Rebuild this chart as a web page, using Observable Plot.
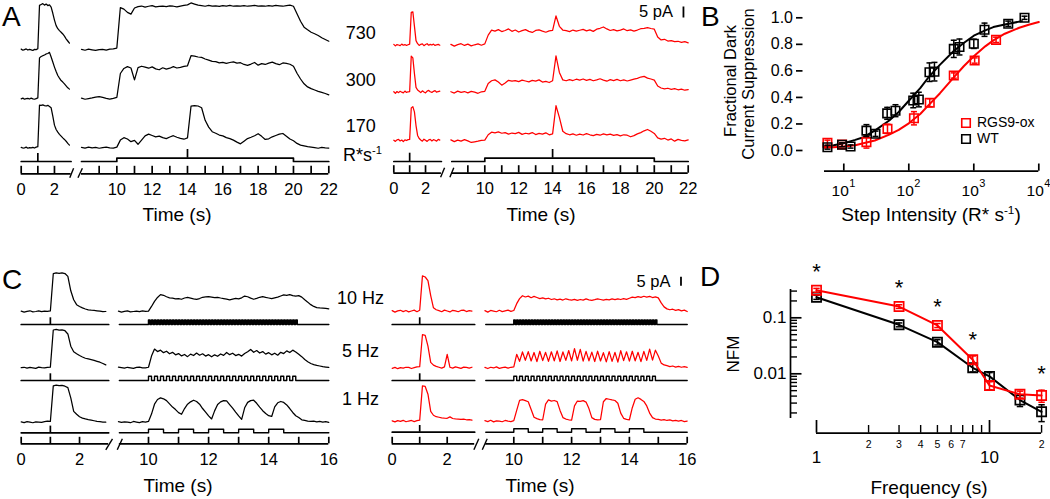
<!DOCTYPE html>
<html>
<head>
<meta charset="utf-8">
<script src="https://cdn.jsdelivr.net/npm/d3@7"></script>
<script src="https://cdn.jsdelivr.net/npm/@observablehq/plot@0.6"></script>
<style>
  html, body { margin: 0; padding: 0; background: #fff; }
  #fig { position: relative; width: 1050px; height: 499px; overflow: hidden; background: #fff;
         font-family: "Liberation Sans", Arial, Helvetica, sans-serif; color: #000; }
  #fig > svg { position: absolute; left: 0; top: 0; }
  .lbl { position: absolute; white-space: nowrap; line-height: 1; }
  .lbl sup { font-size: 0.62em; vertical-align: 0.6em; line-height: 0; }
</style>
</head>
<body>
<div id="fig"></div>
<script>
// ======================= DATA =======================
// ---- Panel A: responses (pA) to flashes and steps; rows = step intensity (R* s^-1)
const stepIntensityLabels = ["730", "300", "170"];
const lightStepA = [10, 20];        // step on / off (s)
const flashTimesA = [1, 14];        // test flash times (s)
const timeTicksA1 = [0, 1, 2];
const timeLabelsA1 = [0, 2];
const timeTicksA2 = [9, 10, 11, 12, 13, 14, 15, 16, 17, 18, 19, 20, 21, 22];
const timeLabelsA2 = [10, 12, 14, 16, 18, 20, 22];
// segment 1: t = 0 ... 2.9 s every 0.1 s
const wtA730_s1 = [0.3,-0.2,0.1,0.4,-0.1,0.2,0,-0.3,0.2,0.1, 0.5,20.2,20.6,21.0,20.3,20.8,20.1,20.4,19.4,16.6, 13.5,11.0,9.6,8.7,8.0,7.2,6.2,5.0,4.0,3.0];
const wtA300_s1 = [0,0.3,-0.2,0.1,0.2,-0.1,0.3,0,-0.2,0.1, 0.4,18.6,19.2,19.6,19.9,20.4,20.6,21.1,19.0,16.7, 14.4,12.4,10.6,9.4,8.3,7.6,6.8,5.9,5.0,4.4];
const wtA170_s1 = [0.2,-0.1,0,0.3,-0.2,0.1,0,0.2,-0.1,0.3, 0.5,19.4,19.3,19.5,19.2,19.0,19.3,18.8,18.2,14.4, 10.3,8.3,7.1,6.1,5.3,4.5,3.8,3.0,2.0,1.2];
const rgsA730_s1 = [0.3,-0.4,0.2,0,-0.3,0.4,-0.1,0.2,-0.2,0.1, 0.4,14.8,15.1,8.6,2.0,0.6,-0.2,0.3,0.5,-0.3, 0.2,0.6,-0.1,0.3,0,0.4,-0.2,0.1,0.3,-0.1];
const rgsA300_s1 = [0.2,-0.5,0.3,-0.2,0.4,0,-0.3,0.5,-0.1,0.2, 0.3,16.4,15.6,8.5,2.2,1.0,0.4,-0.2,0.6,0.1, -0.3,0.5,0.8,0.2,-0.1,0.4,0.7,0,0.3,0.5];
const rgsA170_s1 = [0.1,-0.4,0.3,0.5,-0.2,0.2,-0.5,0.3,0,0.4, 0.5,14.8,15.4,13.0,6.8,2.3,0.9,0.2,-0.3,0.6, 0.1,-0.4,0.3,0.5,-0.2,0.4,0.1,-0.3,0.5,0.2];
// segment 2: t = 8 ... 22 s every 0.2 s
const wtA730_s2 = [0.2,-0.2,0.3,0,-0.3,0.1,0.2,-0.1,0.3,0.4, 0.8, 19.2,18.5,17.0,16.2, 19.0,
  19.6,19.9,19.4,19.8,20.1,19.5,19.7,19.9,19.6,20.0,19.8,19.5,19.9,20.2, 20.4,21.3,20.8,20.3,
  20.1,19.8,20.2,19.9,20.0,19.7,20.1,19.9,20.2,19.8,20.0,19.9,20.1,19.8,20.0,20.2,19.9,20.0,19.8,20.1,19.9,20.2,20.0,19.8,20.1,20.3,
  19.8,16.4,13.0,10.3,9.1,8.0,7.3,6.5,5.5,4.7,3.9];
const wtA300_s2 = [0.3,-0.2,0.1,0.4,0.8,1.0,0.6,0.2,-0.1,0.2, 0.6,
  11.5,13.8,14.6,14.0,8.6,14.2,14.8,14.4,13.9,14.5,13.6,13.2,14.1,13.5,13.9,14.6,14.0,14.3,14.7,
  15.0,19.6,19.4,19.0,18.8,18.1,17.6,17.0,16.9,16.3, 16.6,16.1,16.5,16.8,16.2,16.4,15.6,15.2,15.8,16.5, 15.3,16.0,15.6,16.2,16.7,16.0,15.5,16.3,16.1,15.7,
  14.8,11.6,9.0,6.8,5.4,4.6,4.0,3.4,2.9,2.4,1.8];
const wtA170_s2 = [0.2,-0.1,0.3,0,0.2,-0.2,0.1,0.3,0,-0.1,
  0.3,3.5,4.6,4.0,2.8,3.4,1.6,3.5,5.4,6.2,5.6,5.0,5.3,4.6,4.2,4.9,5.5,4.8,4.3,3.9,4.5,
  18.9,19.2,19.0,18.2,12.5,9.4,7.3,6.6,5.8,5.4, 4.6,4.2,3.5,2.6,1.8,3.0,4.2,4.8,5.5,6.4, 5.2,3.8,4.1,5.0,5.6,6.2,6.5,5.3,4.0,
  3.2,2.0,1.2,0.9,0.5,0.3,0.1,-0.2,0.2,0,-0.1];
const rgsA730_s2 = [0.3,-0.5,0.2,0.6,-0.2,0.4,-0.4,0.1,0.5,-0.1,
  0.5,4.5,6.8,6.3,7.0,6.1,6.6,7.3,6.2,6.8, 5.9,6.5,7.0,6.2,5.7,6.6,6.9,6.3,5.8,6.4,
  6.6,13.2,8.5,6.8,6.5,6.1,6.8,6.3,6.7,7.1, 6.4,6.9,6.2,7.2,7.6,8.2,7.3,6.6,7.0,6.4, 6.8,7.3,6.5,6.9,6.3,6.8,7.4,7.6,7.9,7.5,
  7.2,3.6,2.3,2.6,1.8,2.0,1.5,1.7,1.2,1.5,1.0];
const rgsA300_s2 = [0.2,-0.4,0.5,-0.1,0.3,-0.3,0.4,0,-0.5,0.2,
  0.4,4.0,5.2,5.6,4.6,3.2,4.2,5.4,5.0,5.3, 4.8,5.5,5.1,4.7,5.4,5.0,5.6,4.6,4.9,4.4,
  5.2,16.5,9.0,5.6,5.2,5.7,5.3,5.9,5.5,6.0, 5.4,5.8,5.2,5.6,6.1,5.5,5.0,5.7,5.3,5.8, 5.2,5.6,5.1,5.5,5.9,6.3,6.9,7.2,6.4,6.0,
  5.5,2.8,1.9,1.5,1.8,1.3,1.6,1.1,1.4,0.9,1.2];
const rgsA170_s2 = [0.3,-0.5,0.2,-0.3,0.4,-0.2,-0.9,-0.6,-0.3,0.1,
  0.2,2.6,3.8,3.5,3.9,3.3,3.6,2.9,3.4,3.1, 3.7,2.8,3.3,3.0,3.6,2.7,3.2,2.9,3.5,2.6,
  3.0,15.8,10.5,4.2,3.1,2.6,3.0,2.4,2.9,2.5, 3.1,2.6,2.2,2.8,2.4,3.0,2.6,2.9,2.3,2.7, 2.1,2.6,2.4,1.7,2.2,3.0,3.6,4.4,5.0,4.2,
  3.2,1.2,0.6,1.0,0.2,0.7,-0.3,0.5,0.1,-0.2,0.3];

// ---- Panel C: responses (pA) to flicker; rows = flicker frequency
const flickerLabels = ["10 Hz", "5 Hz", "1 Hz"];
const pulseFreqsC = [10, 5, 1];     // Hz
const pulseTrainC = [10, 15];       // train start / end (s)
const flashTimesC = [1];
const timeTicksC1 = [0, 1, 2];
const timeLabelsC1 = [0, 2];
const timeTicksC2 = [10, 11, 12, 13, 14, 15, 16];
const timeLabelsC2 = [10, 12, 14, 16];
// segment 1: t = 0 ... 2.9 s every 0.1 s
const wtC10_s1 = [0.2,-0.3,0.1,0.4,-0.2,0,0.3,-0.1,0.2,0.1, 0.3,21.0,21.4,21.2,21.5,21.1,19.5,11.5,6.5,3.8, 2.8,2.0,1.4,0.9,0.7,0.6,0.4,0.2,-0.1,0.0];
const wtC5_s1  = [0.1,0.3,-0.2,0.2,0,-0.3,0.4,0.1,-0.1,0.2, 0.4,21.0,21.3,20.9,21.1,20.6,18.8,12.0,8.9,7.8, 6.8,6.0,5.3,4.9,4.5,4.1,3.6,3.1,2.4,1.6];
const wtC1_s1  = [0.2,-0.2,0.3,0,-0.3,0.2,0.1,-0.1,0.3,0.6, 0.4,20.2,20.6,20.3,20.5,20.0,19.2,13.5,6.0,4.4, 3.0,2.3,1.8,1.4,1.1,0.8,0.5,0.3,0.1,0];
const rgsC10_s1 = [0.3,-0.5,0.2,0.5,-0.2,0.4,-0.4,0.1,0.6,-0.3, 0.5,19.6,19.0,17.0,8.7,1.9,0.8,0.3,-0.3,0.6, 0.1,-0.4,0.5,0.2,-0.3,0.4,0.6,-0.2,0.3,0.1];
const rgsC5_s1  = [-0.3,0.2,-0.5,0.1,-0.2,0.3,0.2,-0.4,0.1,0.5, 0.6,18.4,18.0,12.0,3.0,1.5,0.8,0.3,-0.2,0.5, 7.4,0.3,-0.2,0.5,0.1,-0.3,0.4,0.2,-0.2,0.3];
const rgsC1_s1  = [0.2,-0.4,0.3,-0.1,0.5,-0.3,0.1,0.4,-0.2,0.3, 0.6,19.6,19.3,15.0,5.5,3.3,2.5,2.2,1.9,1.7, 1.6,2.4,1.5,1.3,1.2,1.0,1.1,0.8,0.9,0.6];
// segment 2: t = 9 ... 16 s every 0.1 s
const wtC10_s2 = [0.2,-0.3,0.1,0.3,-0.2,0,0.2,-0.1,0.3,0.1,
  0.2,2.8,5.6,7.8,9.4,9.0,8.2,7.6,7.4,7.0, 7.2,6.8,7.5,7.8,7.4,7.0,6.7,7.2,7.9,8.1,
  8.3,8.0,7.7,7.9,7.5,7.2,6.9,6.5,6.9,7.3, 7.0,7.6,8.6,8.2,7.4,6.8,7.3,7.9,8.3,7.8,
  7.5,7.1,7.6,8.0,8.6,9.2,9.0,9.4,8.8,8.6, 8.8,8.0,6.5,5.2,3.8,2.8,2.2,2.0,1.9,1.7, 1.5];
const wtC5_s2 = [0.4,0.1,-0.2,0.3,0,-0.3,0.2,0.4,0,-0.1,
  0.3,6.5,10.4,9.0,9.8,8.4,9.2,7.8,8.6,7.2, 7.9,6.6,7.4,6.2,7.6,6.8,8.2,7.0,7.8,6.5,
  7.3,6.1,7.2,6.4,7.7,6.9,8.5,7.3,8.1,6.8, 7.5,6.5,7.9,8.9,10.2,8.6,9.6,8.2,9.0,7.6,
  8.4,7.2,8.1,7.0,8.6,7.9,9.4,8.5,9.8,8.8, 7.5,6.2,4.6,3.4,2.4,1.8,1.3,1.0,0.6,0.4, 0.2];
const wtC1_s2 = [0.3,-0.1,0.2,0,-0.3,0.4,0.1,-0.2,0.3,0,
  0.4,4.5,10.0,12.6,13.5,13.0,12.0,10.2,8.4,7.0, 5.3,4.4,7.6,10.0,11.3,12.2,11.5,10.0,7.6,5.6,
  3.5,1.8,6.3,9.8,11.3,12.0,11.8,9.8,7.8,5.6, 3.5,1.6,8.0,11.0,12.0,12.2,10.5,8.4,6.4,4.8,
  3.6,3.2,8.5,10.8,11.5,11.0,9.6,7.6,5.4,3.6, 2.6,1.3,1.0,0.6,0.4,0.6,0.2,0.5,0,0.3, -0.1];
const rgsC10_s2 = [0.3,-0.5,0.4,0.1,-0.3,0.5,-0.2,0.2,0.6,-0.1,
  0.4,4.2,7.0,8.6,7.9,8.4,7.5,8.2,7.6,7.0, 7.4,6.8,7.2,6.5,6.9,6.3,6.7,6.2,6.9,6.4,
  6.1,6.6,6.0,6.5,6.2,6.8,6.3,6.0,6.4,6.9, 6.5,6.1,6.6,6.3,6.8,6.4,6.9,6.5,7.0,6.6,
  7.2,7.8,7.5,8.1,7.7,8.3,7.8,8.2,7.6,8.0, 7.4,4.6,2.4,1.3,0.8,1.1,0.5,0.9,0.2,0.6, -0.2];
const rgsC5_s2 = [0.2,-0.4,0.3,-0.1,0.5,-0.3,0.1,0.4,-0.2,0.3,
  0.5,7.5,3.6,8.8,4.2,9.0,3.8,8.5,3.4,9.2, 4.0,8.6,3.6,8.9,3.9,9.4,3.5,8.8,4.1,9.6,
  3.8,10.6,4.2,10.2,3.7,9.1,3.9,8.7,3.5,9.3, 3.8,8.4,3.3,9.0,3.6,8.6,3.2,9.5,4.0,8.9,
  3.7,9.2,3.9,8.6,3.4,9.1,4.1,10.4,4.3,9.8, 6.5,2.6,1.6,1.2,0.7,1.0,0.4,0.8,0.3,0.6, 0.2];
const rgsC1_s2 = [0.3,-0.2,0.5,-0.4,0.2,0.1,-0.3,0.4,0,-0.2,
  0.3,6.0,11.6,12.0,11.4,10.8,6.5,2.2,1.4,0.9, 0.8,9.5,11.8,11.2,11.5,10.9,6.0,2.0,1.2,0.8,
  0.6,8.5,11.2,11.0,11.4,10.6,7.0,2.0,1.0,0.7, 0.9,10.8,12.6,12.2,11.8,11.5,10.0,4.5,1.6,1.0,
  0.8,7.5,12.2,13.0,12.1,11.0,8.5,4.5,2.0,1.2, 1.0,0.6,0.9,0.4,0.7,0.2,0.5,0.1,0.4,-0.2, 0.1];
const scaleBarPA = 5;

// ---- Panel B: fractional dark current suppression vs step intensity
const wtStepI    = [5.6, 9.4, 12.7, 22.3, 30.7, 46.5, 62.4, 117, 142.6, 208, 248, 492, 602, 1000, 1462, 3388, 6030];
const wtFrac     = [0.025, 0.043, 0.03, 0.15, 0.126, 0.28, 0.30, 0.377, 0.384, 0.59, 0.594, 0.766, 0.78, 0.804, 0.91, 0.955, 1.0];
const wtFracErr  = [0.015, 0.015, 0.012, 0.045, 0.02, 0.045, 0.045, 0.055, 0.055, 0.07, 0.07, 0.065, 0.06, 0.035, 0.05, 0.02, 0.012];
const rgsStepI   = [5.6, 9.4, 22.3, 47, 120, 210, 492, 1030, 2200];
const rgsFrac    = [0.058, 0.045, 0.063, 0.163, 0.243, 0.36, 0.565, 0.678, 0.834];
const rgsFracErr = [0.02, 0.015, 0.045, 0.035, 0.05, 0.03, 0.02, 0.02, 0.02];
const wtFitI     = [5, 7, 10, 15, 20, 30, 50, 70, 100, 150, 200, 300, 500, 700, 1000, 1500, 2000, 3000, 5500];
const wtFitFrac  = [0.03, 0.04, 0.055, 0.08, 0.10, 0.15, 0.226, 0.29, 0.375, 0.47, 0.55, 0.645, 0.754, 0.81, 0.865, 0.905, 0.93, 0.95, 0.975];
const rgsFitI    = [5, 7, 10, 15, 20, 30, 50, 70, 100, 150, 200, 300, 500, 700, 1000, 1500, 2000, 3000, 5000, 7000, 10000];
const rgsFitFrac = [0.02, 0.025, 0.03, 0.04, 0.055, 0.075, 0.12, 0.155, 0.205, 0.275, 0.34, 0.43, 0.555, 0.635, 0.71, 0.785, 0.83, 0.88, 0.925, 0.948, 0.968];
const bXTicks = [10, 100, 1000, 10000];
const bYTicks = [0, 0.2, 0.4, 0.6, 0.8, 1.0];
const bLegend = ["RGS9-ox", "WT"];

// ---- Panel D: NFM vs frequency
const freqs     = [1, 3, 5, 8, 10, 15, 20];
const wtNFM     = [0.233, 0.075, 0.0367, 0.0128, 0.009, 0.0034, 0.0021];
const wtNFMErr  = [0.02, 0.006, 0.004, 0.002, 0.0015, 0.0008, 0.0007];
const rgsNFM    = [0.31, 0.159, 0.073, 0.0178, 0.0062, 0.0043, 0.0041];
const rgsNFMErr = [0.025, 0.012, 0.006, 0.003, 0.001, 0.0006, 0.001];
const sigFreqs  = [1, 3, 5, 8, 20];
const dXMajor = [1, 10];
const dXMinor = [2, 3, 4, 5, 6, 7, 8, 9, 20];
const dXMinorLabels = [2, 3, 4, 5, 6, 7, 20];
const dYMajor = [0.1, 0.01];
const dYMinor = [0.002, 0.003, 0.004, 0.005, 0.006, 0.007, 0.008, 0.009, 0.02, 0.03, 0.04, 0.05, 0.06, 0.07, 0.08, 0.09, 0.2, 0.3];

// ======================= DRAWING =======================
const W = 1050, H = 499;
const BLACK = "#000000", RED = "#ff0000";
const FONT = "'Liberation Sans', Arial, Helvetica, sans-serif";
const fig = document.getElementById("fig");

function addPlot(opts) {
  const svg = Plot.plot({
    width: W, height: H, margin: 0,
    style: {background: "transparent", overflow: "visible", fontFamily: FONT, fontSize: "16px"},
    ...opts
  });
  fig.appendChild(svg);
}
function grid(vals, start, step) {
  return vals.map((v, i) => ({t: Math.round((start + i * step) * 1000) / 1000, v}));
}
const capSym = {draw(ctx, size) { const r = Math.sqrt(size / Math.PI); ctx.moveTo(-r, 0); ctx.lineTo(r, 0); }};

function tracePanel(p) {
  const yv = px => (H - px) / p.k;   // pixel row -> value on this panel's pA scale
  p.segs.forEach((seg, si) => {
    const ay = yv(p.axisPx);
    const marks = [
      ...p.stim(seg, si, yv),
      ...seg.rows.map((vals, ri) => {
        const base = yv(p.basePx[ri]);
        return Plot.line(grid(vals, seg.start, seg.step), {x: "t", y: d => base + d.v, stroke: p.color, strokeWidth: 1.25});
      }),
      Plot.ruleY([ay], {x1: seg.axis[0], x2: seg.axis[1], stroke: BLACK, strokeWidth: 1.7}),
      Plot.ruleX(seg.ticks, {x: d => d, y1: ay, y2: yv(p.axisPx - p.tickLen), stroke: BLACK, strokeWidth: 1.7}),
      Plot.text(seg.labels, {x: d => d, y: ay, dy: p.labelDy, text: d => String(d), fontSize: 16.5}),
      Plot.link([seg.slash], {x1: d => d[0], x2: d => d[1], y1: yv(p.axisPx + p.slashDown), y2: yv(p.axisPx - p.slashUp), stroke: BLACK, strokeWidth: 1.4}),
      ...(seg.extra ? seg.extra(yv) : [])
    ];
    addPlot({
      x: {domain: seg.domain, range: seg.range, axis: null},
      y: {domain: [0, H / p.k], range: [H, 0], axis: null},
      marks
    });
  });
}

function stimStep(p) {
  return (seg, si, yv) => {
    const b = yv(p.stimPx), s = yv(p.stepPx);
    const [on, off] = lightStepA;
    const pts = si === 0 ? [[seg.axis[0], b], [seg.axis[1], b]]
      : [[seg.axis[0], b], [on, b], [on, s], [off, s], [off, b], [seg.axis[1], b]];
    const fl = flashTimesA.filter(t => t > seg.domain[0] && t < seg.domain[1]);
    return [
      Plot.line(pts, {x: d => d[0], y: d => d[1], stroke: BLACK, strokeWidth: 1.7}),
      Plot.ruleX(fl, {x: d => d, y1: d => (d > on && d < off ? s : b), y2: yv(p.flashTopPx[si]), stroke: BLACK, strokeWidth: 1.7})
    ];
  };
}
function stimPulses(p) {
  return (seg, si, yv) => pulseFreqsC.flatMap((f, ri) => {
    const b = yv(p.stimPx[ri]), h = yv(p.stimPx[ri] - p.pulsePx[ri]);
    if (si === 0) {
      return [
        Plot.line([[seg.axis[0], b], [seg.axis[1], b]], {x: d => d[0], y: d => d[1], stroke: BLACK, strokeWidth: 1.7}),
        Plot.ruleX(flashTimesC, {x: d => d, y1: b, y2: yv(p.stimPx[ri] - p.flashPx), stroke: BLACK, strokeWidth: 1.7})
      ];
    }
    const [t0, t1] = pulseTrainC;
    const n = Math.round((t1 - t0) * f);
    const pts = [[seg.axis[0], b]];
    for (let k = 0; k < n; k++) {
      const s = t0 + k / f, e = s + 0.5 / f;
      pts.push([s, b], [s, h], [e, h], [e, b]);
    }
    pts.push([seg.axis[1], b]);
    return [Plot.line(pts, {x: d => d[0], y: d => d[1], stroke: BLACK, strokeWidth: f >= 10 ? 1.5 : 1.4})];
  });
}

// ---- Panel A, WT (black)
{
  const p = {
    color: BLACK, k: 2.2, basePx: [49.3, 98.3, 147.3], stimPx: 161, stepPx: 157.7, flashTopPx: [153, 149],
    axisPx: 173.3, tickLen: 7.5, labelDy: 15.5, slashDown: 4, slashUp: 5.5, labelPx: [33, 80, 126],
    segs: [
      {rows: [wtA730_s1, wtA300_s1, wtA170_s1], start: 0, step: 0.1, domain: [0, 3], range: [20.7, 70.6],
       axis: [0, 3], ticks: timeTicksA1, labels: timeLabelsA1, slash: [2.92, 3.15]},
      {rows: [wtA730_s2, wtA300_s2, wtA170_s2], start: 8, step: 0.2, domain: [8, 22], range: [81, 328.3],
       axis: [8, 22], ticks: timeTicksA2, labels: timeLabelsA2, slash: [7.8, 8.05],
       extra: yv => [Plot.text(stepIntensityLabels, {x: 22, y: (d, i) => yv(p.labelPx[i]), dx: 32, text: d => d, fontSize: 18})]}
    ]
  };
  p.stim = stimStep(p);
  tracePanel(p);
}
// ---- Panel A, RGS9-ox (red)
{
  const p = {
    color: RED, k: 2.2, basePx: [44.5, 91.7, 140], stimPx: 161, stepPx: 157.7, flashTopPx: [152.7, 149],
    axisPx: 172.7, tickLen: 7.5, labelDy: 15.5, slashDown: 4, slashUp: 5.5,
    segs: [
      {rows: [rgsA730_s1, rgsA300_s1, rgsA170_s1], start: 0, step: 0.1, domain: [0, 3], range: [393.3, 440.9],
       axis: [0, 3], ticks: timeTicksA1, labels: timeLabelsA1, slash: [2.95, 3.2]},
      {rows: [rgsA730_s2, rgsA300_s2, rgsA170_s2], start: 8, step: 0.2, domain: [8, 22], range: [450.4, 687.7],
       axis: [8.05, 22], ticks: timeTicksA2, labels: timeLabelsA2, slash: [7.94, 8.17],
       extra: yv => [
         Plot.ruleX([scaleBarPA], {x: 21.72, y1: yv(17.5), y2: d => yv(17.5) + d, stroke: BLACK, strokeWidth: 1.8}),
         Plot.text([scaleBarPA], {x: 21.72, y: yv(11), dx: -10.5, text: d => `${d} pA`, textAnchor: "end", fontSize: 16.5})
       ]}
    ]
  };
  p.stim = stimStep(p);
  tracePanel(p);
}
// ---- Panel C, WT (black)
{
  const p = {
    color: BLACK, k: 1.8, basePx: [311, 367.3, 421.7], stimPx: [324, 380, 432.3], pulsePx: [4.5, 4.3, 3.5], flashPx: 6.7,
    axisPx: 443.3, tickLen: 6.5, labelDy: 16, slashDown: 6, slashUp: 5, labelPx: [298, 350.7, 398.3],
    segs: [
      {rows: [wtC10_s1, wtC5_s1, wtC1_s1], start: 0, step: 0.1, domain: [0, 3], range: [20.7, 108.2],
       axis: [0, 3], ticks: timeTicksC1, labels: timeLabelsC1, slash: [2.9, 3.13]},
      {rows: [wtC10_s2, wtC5_s2, wtC1_s2], start: 9, step: 0.1, domain: [9, 16], range: [117.95, 328.3],
       axis: [9.03, 16], ticks: timeTicksC2, labels: timeLabelsC2, slash: [8.96, 9.13],
       extra: yv => [Plot.text(flickerLabels, {x: 16, y: (d, i) => yv(p.labelPx[i]), dx: 31.7, text: d => d, fontSize: 18})]}
    ]
  };
  p.stim = stimPulses(p);
  tracePanel(p);
}
// ---- Panel C, RGS9-ox (red)
{
  const p = {
    color: RED, k: 1.8, basePx: [310.7, 367.3, 420.7], stimPx: [324, 380, 431.7], pulsePx: [4.5, 4.3, 3.5], flashPx: 6.7,
    axisPx: 443.3, tickLen: 6.5, labelDy: 16, slashDown: 6, slashUp: 5,
    segs: [
      {rows: [rgsC10_s1, rgsC5_s1, rgsC1_s1], start: 0, step: 0.1, domain: [0, 3], range: [391.7, 474.2],
       axis: [0, 3], ticks: timeTicksC1, labels: timeLabelsC1, slash: [2.97, 3.15]},
      {rows: [rgsC10_s2, rgsC5_s2, rgsC1_s2], start: 9, step: 0.1, domain: [9, 16], range: [484.4, 686.7],
       axis: [9.03, 16], ticks: timeTicksC2, labels: timeLabelsC2, slash: [8.91, 9.08],
       extra: yv => [
         Plot.ruleX([scaleBarPA], {x: 15.785, y1: yv(285.7), y2: d => yv(285.7) + d, stroke: BLACK, strokeWidth: 1.8}),
         Plot.text([scaleBarPA], {x: 15.785, y: yv(281.3), dx: -10.5, text: d => `${d} pA`, textAnchor: "end", fontSize: 16.5})
       ]}
    ]
  };
  p.stim = stimPulses(p);
  tracePanel(p);
}

// ---- Panel B
{
  const bxv = px => 10 ** (1 + (px - 843.3) / 65);
  const byv = px => (150 - px) / 132.7;
  const axY = byv(170.7);
  const pts = (xs, ys, es) => xs.map((x, i) => ({x, y: ys[i], lo: ys[i] - es[i], hi: ys[i] + es[i]}));
  const series = (data, color) => [
    Plot.ruleX(data, {x: "x", y1: "lo", y2: "hi", stroke: color, strokeWidth: 1.5}),
    Plot.dot(data, {x: "x", y: "lo", symbol: capSym, r: 3, stroke: color, strokeWidth: 1.5, fill: "none"}),
    Plot.dot(data, {x: "x", y: "hi", symbol: capSym, r: 3, stroke: color, strokeWidth: 1.5, fill: "none"}),
    Plot.dot(data, {x: "x", y: "y", symbol: "square", r: 4.8, stroke: color, strokeWidth: 1.6, fill: "none"})
  ];
  const fit = (xs, ys) => xs.map((x, i) => ({x, y: ys[i]}));
  addPlot({
    x: {type: "log", domain: [10, 10000], range: [843.3, 1038.3], axis: null},
    y: {domain: [0, 1], range: [150, 17.3], axis: null},
    marks: [
      Plot.ruleY([axY], {x1: bxv(824), x2: 10000, stroke: BLACK, strokeWidth: 1.7}),
      Plot.ruleX(bXTicks, {x: d => d, y1: axY, y2: byv(163.5), stroke: BLACK, strokeWidth: 1.7}),
      Plot.text(bXTicks, {x: d => d, y: axY, dx: 5, dy: 20, text: () => "10", textAnchor: "end", fontSize: 15.5}),
      Plot.text(bXTicks, {x: d => d, y: axY, dx: 5.5, dy: 12, text: d => String(Math.round(Math.log10(d))), textAnchor: "start", fontSize: 11}),
      Plot.ruleY(bYTicks, {y: d => d, x1: bxv(796), x2: bxv(802.5), stroke: BLACK, strokeWidth: 1.7}),
      Plot.text(bYTicks, {x: bxv(792.5), y: d => d, text: d => d.toFixed(1), textAnchor: "end", fontSize: 16}),
      Plot.line(fit(rgsFitI, rgsFitFrac), {x: "x", y: "y", stroke: RED, strokeWidth: 2}),
      Plot.line(fit(wtFitI, wtFitFrac), {x: "x", y: "y", stroke: BLACK, strokeWidth: 2}),
      ...series(pts(rgsStepI, rgsFrac, rgsFracErr), RED),
      ...series(pts(wtStepI, wtFrac, wtFracErr), BLACK),
      Plot.dot(bLegend, {x: bxv(965.5), y: (d, i) => byv(122.5 + 16 * i), symbol: "square", r: 4.8, strokeWidth: 1.6, fill: "none",
                         stroke: (d, i) => (i === 0 ? RED : BLACK)}),
      Plot.text(bLegend, {x: bxv(976.5), y: (d, i) => byv(122.5 + 16 * i), text: d => d, textAnchor: "start", fontSize: 14})
    ]
  });
}

// ---- Panel D
{
  const dxv = px => 10 ** ((px - 816) / 173);
  const dyv = px => 10 ** (-2 + (373.3 - px) / 56);
  const axX = dyv(432.7);
  const pts = (ys, es) => freqs.map((f, i) => ({x: f, y: ys[i], lo: ys[i] - es[i], hi: ys[i] + es[i]}));
  const series = (data, color) => [
    Plot.line(data, {x: "x", y: "y", stroke: color, strokeWidth: 2}),
    Plot.ruleX(data, {x: "x", y1: "lo", y2: "hi", stroke: color, strokeWidth: 1.5}),
    Plot.dot(data, {x: "x", y: "lo", symbol: capSym, r: 3.2, stroke: color, strokeWidth: 1.5, fill: "none"}),
    Plot.dot(data, {x: "x", y: "hi", symbol: capSym, r: 3.2, stroke: color, strokeWidth: 1.5, fill: "none"}),
    Plot.dot(data, {x: "x", y: "y", symbol: "square", r: 5.2, stroke: color, strokeWidth: 1.7, fill: "none"})
  ];
  const rgsPts = pts(rgsNFM, rgsNFMErr);
  addPlot({
    x: {type: "log", domain: [1, 10], range: [816, 989], axis: null},
    y: {type: "log", domain: [0.01, 0.1], range: [373.3, 317.3], axis: null},
    marks: [
      Plot.ruleX([dxv(790)], {x: d => d, y1: dyv(418), y2: dyv(289), stroke: BLACK, strokeWidth: 1.7}),
      Plot.ruleY(dYMajor, {y: d => d, x1: dxv(790), x2: dxv(801.5), stroke: BLACK, strokeWidth: 1.7}),
      Plot.ruleY(dYMinor, {y: d => d, x1: dxv(790), x2: dxv(797), stroke: BLACK, strokeWidth: 1.4}),
      Plot.text(dYMajor, {x: dxv(786), y: d => d, text: d => String(d), textAnchor: "end", fontSize: 17}),
      Plot.ruleY([axX], {x1: 1, x2: 20, stroke: BLACK, strokeWidth: 1.7}),
      Plot.ruleX(dXMajor, {x: d => d, y1: axX, y2: dyv(420), stroke: BLACK, strokeWidth: 1.7}),
      Plot.ruleX(dXMinor, {x: d => d, y1: axX, y2: dyv(425), stroke: BLACK, strokeWidth: 1.4}),
      Plot.text(dXMajor, {x: d => d, y: axX, dy: 24, text: d => String(d), fontSize: 17}),
      Plot.text(dXMinorLabels, {x: d => d, y: axX, dy: 11, text: d => String(d >= 10 ? d / 10 : d), fontSize: 10.5}),
      ...series(pts(wtNFM, wtNFMErr), BLACK),
      ...series(rgsPts, RED),
      Plot.text(rgsPts.filter(d => sigFreqs.includes(d.x)), {x: "x", y: "hi", dy: -16.5, text: () => "*", fontSize: 22})
    ]
  });
}

// ---- Text labels (panel letters, titles)
function label(html, x, baseline, size, anchor) {
  const el = document.createElement("div");
  el.className = "lbl";
  el.innerHTML = html;
  el.style.fontSize = size + "px";
  el.style.left = x + "px";
  el.style.top = (baseline - 0.8465 * size) + "px";
  if (anchor === "middle") el.style.transform = "translateX(-50%)";
  fig.appendChild(el);
}
function vlabel(html, cx, cy, size) {
  const el = document.createElement("div");
  el.className = "lbl";
  el.innerHTML = html;
  el.style.fontSize = size + "px";
  el.style.left = cx + "px";
  el.style.top = cy + "px";
  el.style.transform = "translate(-50%, -50%) rotate(-90deg)";
  fig.appendChild(el);
}
label("A", 2, 26.5, 28);
label("B", 701, 26.5, 28);
label("C", 2, 290, 28);
label("D", 700, 286.7, 28);
label("R*s<sup>-1</sup>", 343, 161, 18);
label("Time (s)", 177, 221, 19, "middle");
label("Time (s)", 541, 221, 19, "middle");
label("Time (s)", 178, 492.5, 19, "middle");
label("Time (s)", 540, 492.5, 19, "middle");
label("Step Intensity (R* s<sup>-1</sup>)", 931, 221, 19, "middle");
label("Frequency (s)", 929, 494, 19, "middle");
vlabel("Fractional Dark", 730, 81, 16.5);
vlabel("Current Suppression", 747.5, 84, 16.5);
vlabel("NFM", 733, 354, 17);
</script>
</body>
</html>
